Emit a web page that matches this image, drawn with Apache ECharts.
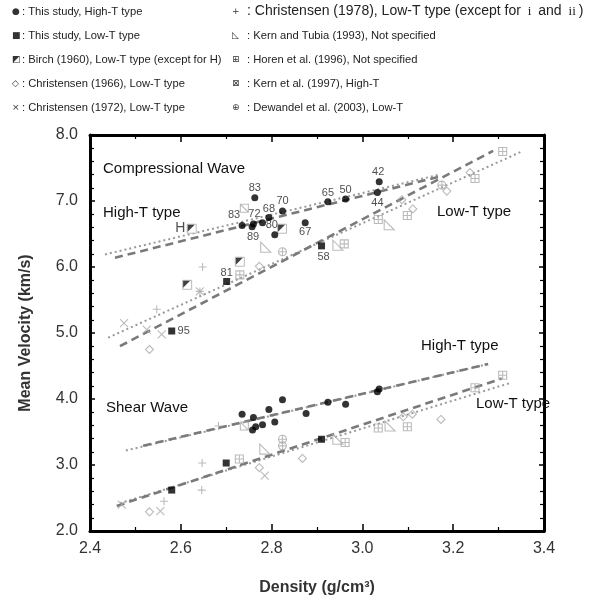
<!DOCTYPE html>
<html>
<head>
<meta charset="utf-8">
<script src="https://cdn.jsdelivr.net/npm/echarts@6/dist/echarts.min.js"></script>
<style>
  html, body { margin: 0; padding: 0; background: #fff; }
  #chart { width: 591px; height: 601px; }
</style>
</head>
<body>
<div id="chart"></div>
<script>
// ---- data (density g/cm3, mean velocity km/s) ----
// this study, high-T (filled circles)
const studyHighVp = [[2.763,7.05],[2.824,6.85],[2.794,6.75],[2.735,6.63],[2.760,6.65],[2.780,6.67],
  [2.807,6.49],[2.757,6.61],[2.874,6.67],[2.924,6.99],[2.963,7.03],[3.037,7.29],[3.033,7.13]];
const studyHighVpIds = ['83','70','68','83','72','','80','89','67','65','50','42','44'];
const studyHighVs = [[2.735,3.77],[2.760,3.72],[2.765,3.58],[2.758,3.53],[2.780,3.61],[2.794,3.84],
  [2.807,3.65],[2.824,3.99],[2.876,3.78],[2.924,3.95],[2.963,3.92],[3.037,4.15],[3.033,4.11]];
// this study, low-T (filled squares)
const studyLowVp = [[2.910,6.32],[2.701,5.78],[2.580,5.03]];
const studyLowVpIds = ['58','81','95'];
const studyLowVs = [[2.700,3.03],[2.580,2.62],[2.910,3.39]];
// literature
const birch = [[2.624,6.58],[2.730,6.08],[2.614,5.73],[2.823,6.58]];
const birchIds = ['H','','',''];
const chr1966 = [[2.531,4.75],[2.773,6.01],[3.087,7.02],[3.111,6.88],[3.186,7.15],[3.237,7.43],
  [2.531,2.29],[2.773,2.96],[2.868,3.10],[3.173,3.69],[3.090,3.73],[3.110,3.77]];
const chr1972 = [[2.475,5.15],[2.525,5.05],[2.558,4.98],[2.642,5.63],
  [2.470,2.40],[2.555,2.30],[2.785,2.84]];
const chr1978 = [[2.648,6.00],[2.547,5.36],[2.642,5.63],
  [2.647,3.03],[2.646,2.62],[2.563,2.45],[2.683,3.59]];
const romanPts = [[2.619,6.02],[2.677,6.69],[2.626,2.98],[2.679,3.77]];
const romanIds = ['i','ii','i','ii'];
const kernTubia = [[2.787,6.30],[3.059,6.64],[2.946,6.33],[2.785,3.24],[3.061,3.59],[2.946,3.39]];
const horen = [[2.730,5.88],[3.035,6.72],[3.099,6.78],[2.960,6.35],[3.248,7.34],[3.309,7.75],
  [2.729,3.09],[3.035,3.56],[3.099,3.58],[2.962,3.34],[3.248,4.17],[3.309,4.36]];
const kern1997 = [[2.740,6.89],[2.740,3.59]];
const dewandel = [[2.824,6.23],[3.175,7.24],[2.824,3.39],[2.824,3.29]];

// regression lines (end points)
const vpHighDash = [[2.455,6.14],[3.17,7.37]];
const vpHighDot = [[2.433,6.19],[3.17,7.40]];
const vpLowDash = [[2.466,4.80],[3.288,7.76]];
const vpLowDot = [[2.440,4.93],[3.351,7.75]];
const vsHighDash = [[2.517,3.29],[3.277,4.53]];
const vsHighDot = [[2.479,3.22],[3.277,4.53]];
const vsLowDash = [[2.459,2.38],[3.307,4.31]];
const vsLowDot = [[2.466,2.42],[3.329,4.25]];

// label offsets (px from marker centre)
const highLabelOff = [[0,-10],[0,-10],[0,-9],[-8,-10],[1,-10],[0,0],[-3,-10],[1,10],[0,9],[0,-9],[0,-9],[-1,-10],[0,11]];
const lowLabelOff = [[2,11],[0,-9],[12,0]];

const legendSymbols = ['\u25CF','\u25A0','\u25E9','\u25C7','\u00D7','+','\u25FA','\u229E','\u22A0','\u2295'];
const legendTexts = [
  ': This study, High-T type',
  ': This study, Low-T type',
  ': Birch (1960), Low-T type (except for H)',
  ': Christensen (1966), Low-T type',
  ': Christensen (1972), Low-T type',
  ': Christensen (1978), Low-T type (except for {s|i} and {s|ii})',
  ': Kern and Tubia (1993), Not specified',
  ': Horen et al. (1996), Not specified',
  ': Kern et al. (1997), High-T',
  ': Dewandel et al. (2003), Low-T'
];

const GREY = '#aaaaaa';
const FONT = '"Liberation Sans", Arial, sans-serif';

function pts(arr, ids, offs) {
  return arr.map((p, i) => ({
    value: p,
    name: ids ? ids[i] : '',
    label: offs ? { offset: offs[i] } : undefined
  }));
}

function greySeries(name, data, symbol, size) {
  return {
    name: name, type: 'scatter', data: data, symbol: symbol, symbolSize: size || 8,
    itemStyle: { color: 'rgba(0,0,0,0)', borderColor: GREY, borderWidth: 1.1 },
    z: 3
  };
}

function lineSeries(data, dashed) {
  return {
    type: 'line', data: data, showSymbol: false, symbol: 'none', silent: true,
    lineStyle: dashed ? { color: '#7a7a7a', width: 2.6, type: [8, 5] }
                      : { color: '#9a9a9a', width: 2, type: [2, 3] },
    z: 2
  };
}

const numLabel = {
  show: true, position: 'inside', formatter: '{b}',
  fontFamily: FONT, fontSize: 11, color: '#222'
};

const graphics = [];
legendTexts.forEach((txt, i) => {
  const right = i >= 5;
  const row = i % 5;
  const y = 13 + row * 24;
  const fs = (i === 5) ? 14 : 11.2;
  graphics.push({ type: 'text', left: right ? 232 : 12, top: y - 6,
    style: { text: legendSymbols[i], font: '9px "DejaVu Sans", sans-serif', fill: '#333' } });
  graphics.push({ type: 'text', left: right ? 247 : 22, top: y - fs * 0.6,
    style: { text: txt, font: fs + 'px ' + FONT, fill: '#222',
      rich: { s: { fontFamily: '"Liberation Serif", serif', fontSize: 13, fill: '#222', padding: [0, 3] } } } });
});
const notes = [
  ['Compressional Wave', 103, 161],
  ['High-T type', 103, 205],
  ['Low-T type', 437, 204],
  ['High-T type', 421, 338],
  ['Low-T type', 476, 396],
  ['Shear Wave', 106, 400]
];
notes.forEach(n => {
  graphics.push({ type: 'text', left: n[1], top: n[2], z: 10,
    style: { text: n[0], font: '15px ' + FONT, fill: '#111' } });
});

const chart = echarts.init(document.getElementById('chart'), null, { renderer: 'canvas' });

const axisCommon = {
  type: 'value', min: 2.4, max: 3.4, interval: 0.2,
  axisLine: { show: true, onZero: false, lineStyle: { color: '#000', width: 3 } },
  axisTick: { show: true, inside: true, length: 7, lineStyle: { color: '#000', width: 1.5 } },
  minorTick: { show: true, splitNumber: 2, length: 4, lineStyle: { color: '#000', width: 1.2 } },
  splitLine: { show: false }, minorSplitLine: { show: false }
};
const yCommon = {
  type: 'value', min: 2, max: 8, interval: 1,
  axisLine: { show: true, onZero: false, lineStyle: { color: '#000', width: 3 } },
  axisTick: { show: true, inside: true, length: 5, lineStyle: { color: '#000', width: 1.5 } },
  minorTick: { show: true, splitNumber: 5, length: 4, lineStyle: { color: '#000', width: 1.2 } },
  splitLine: { show: false }, minorSplitLine: { show: false }
};

const option = {
  animation: false,
  backgroundColor: '#fff',
  grid: { left: 90, right: 47, top: 135, bottom: 69, containLabel: false },
  xAxis: [
    Object.assign({}, axisCommon, {
      position: 'bottom',
      axisLabel: { show: true, margin: 10, fontSize: 16, fontFamily: FONT, color: '#333',
        formatter: v => v.toFixed(1) },
      name: 'Density (g/cm\u00B3)', nameLocation: 'middle', nameGap: 49,
      nameTextStyle: { fontSize: 16, fontWeight: 'bold', fontFamily: FONT, color: '#333' }
    }),
    Object.assign({}, axisCommon, { position: 'top', axisLabel: { show: false } })
  ],
  yAxis: [
    Object.assign({}, yCommon, {
      position: 'left',
      axisLabel: { show: true, margin: 12, fontSize: 16, fontFamily: FONT, color: '#333',
        formatter: v => v.toFixed(1) },
      name: 'Mean Velocity (km/s)', nameLocation: 'middle', nameGap: 56, nameRotate: 90,
      nameTextStyle: { fontSize: 16, fontWeight: 'bold', fontFamily: FONT, color: '#333' }
    }),
    Object.assign({}, yCommon, { position: 'right', axisLabel: { show: false } })
  ],
  graphic: graphics,
  series: [
    lineSeries(vpHighDot, false), lineSeries(vpHighDash, true),
    lineSeries(vpLowDot, false), lineSeries(vpLowDash, true),
    lineSeries(vsHighDot, false), lineSeries(vsHighDash, true),
    lineSeries(vsLowDot, false), lineSeries(vsLowDash, true),

    greySeries('Christensen 1966', pts(chr1966), 'path://M5,0L10,5L5,10L0,5Z', 8),
    greySeries('Christensen 1972', pts(chr1972), 'path://M0,0L10,10M10,0L0,10', 8),
    greySeries('Christensen 1978', pts(chr1978), 'path://M5,0L5,10M0,5L10,5', 8),
    greySeries('Kern and Tubia 1993', pts(kernTubia), 'path://M0,0L0,10L10,10Z', 10),
    greySeries('Horen 1996', pts(horen), 'path://M0,0L10,0L10,10L0,10ZM5,0L5,10M0,5L10,5', 8),
    greySeries('Kern 1997', pts(kern1997), 'path://M0,0L10,0L10,10L0,10ZM0,0L10,10', 8),
    greySeries('Dewandel 2003', pts(dewandel), 'path://M5,0A5,5,0,1,1,4.99,0ZM5,0L5,10M0,5L10,5', 8),
    {
      name: 'roman', type: 'scatter', data: pts(romanPts, romanIds), symbol: 'none', symbolSize: 1,
      label: { show: true, position: 'inside', formatter: '{b}',
        fontFamily: '"Liberation Serif", serif', fontSize: 13, color: '#999' },
      z: 3
    },
    {
      name: 'Birch edge', type: 'scatter', data: pts(birch), symbol: 'rect', symbolSize: 9,
      itemStyle: { color: '#fff', borderColor: GREY, borderWidth: 1 }, z: 4
    },
    {
      name: 'Birch 1960', type: 'scatter', data: pts(birch, birchIds, birch.map(() => [-11, 0])),
      symbol: 'path://M0,0L10,0L0,10Z', symbolSize: 7, symbolOffset: [-0.5, -0.5],
      itemStyle: { color: '#111' },
      label: { show: true, position: 'inside', formatter: '{b}', fontFamily: FONT, fontSize: 14, color: '#222' },
      z: 5
    },
    {
      name: 'This study, Low-T', type: 'scatter', data: pts(studyLowVp, studyLowVpIds, lowLabelOff),
      symbol: 'rect', symbolSize: 7, itemStyle: { color: '#000' }, label: numLabel, z: 6
    },
    {
      name: 'This study, Low-T Vs', type: 'scatter', data: pts(studyLowVs),
      symbol: 'rect', symbolSize: 7, itemStyle: { color: '#000' }, z: 6
    },
    {
      name: 'This study, High-T', type: 'scatter', data: pts(studyHighVp, studyHighVpIds, highLabelOff),
      symbol: 'circle', symbolSize: 7, itemStyle: { color: '#000' }, label: numLabel, z: 6
    },
    {
      name: 'This study, High-T Vs', type: 'scatter', data: pts(studyHighVs),
      symbol: 'circle', symbolSize: 7, itemStyle: { color: '#000' }, z: 6
    }
  ]
};
chart.setOption(option);
</script>
</body>
</html>
